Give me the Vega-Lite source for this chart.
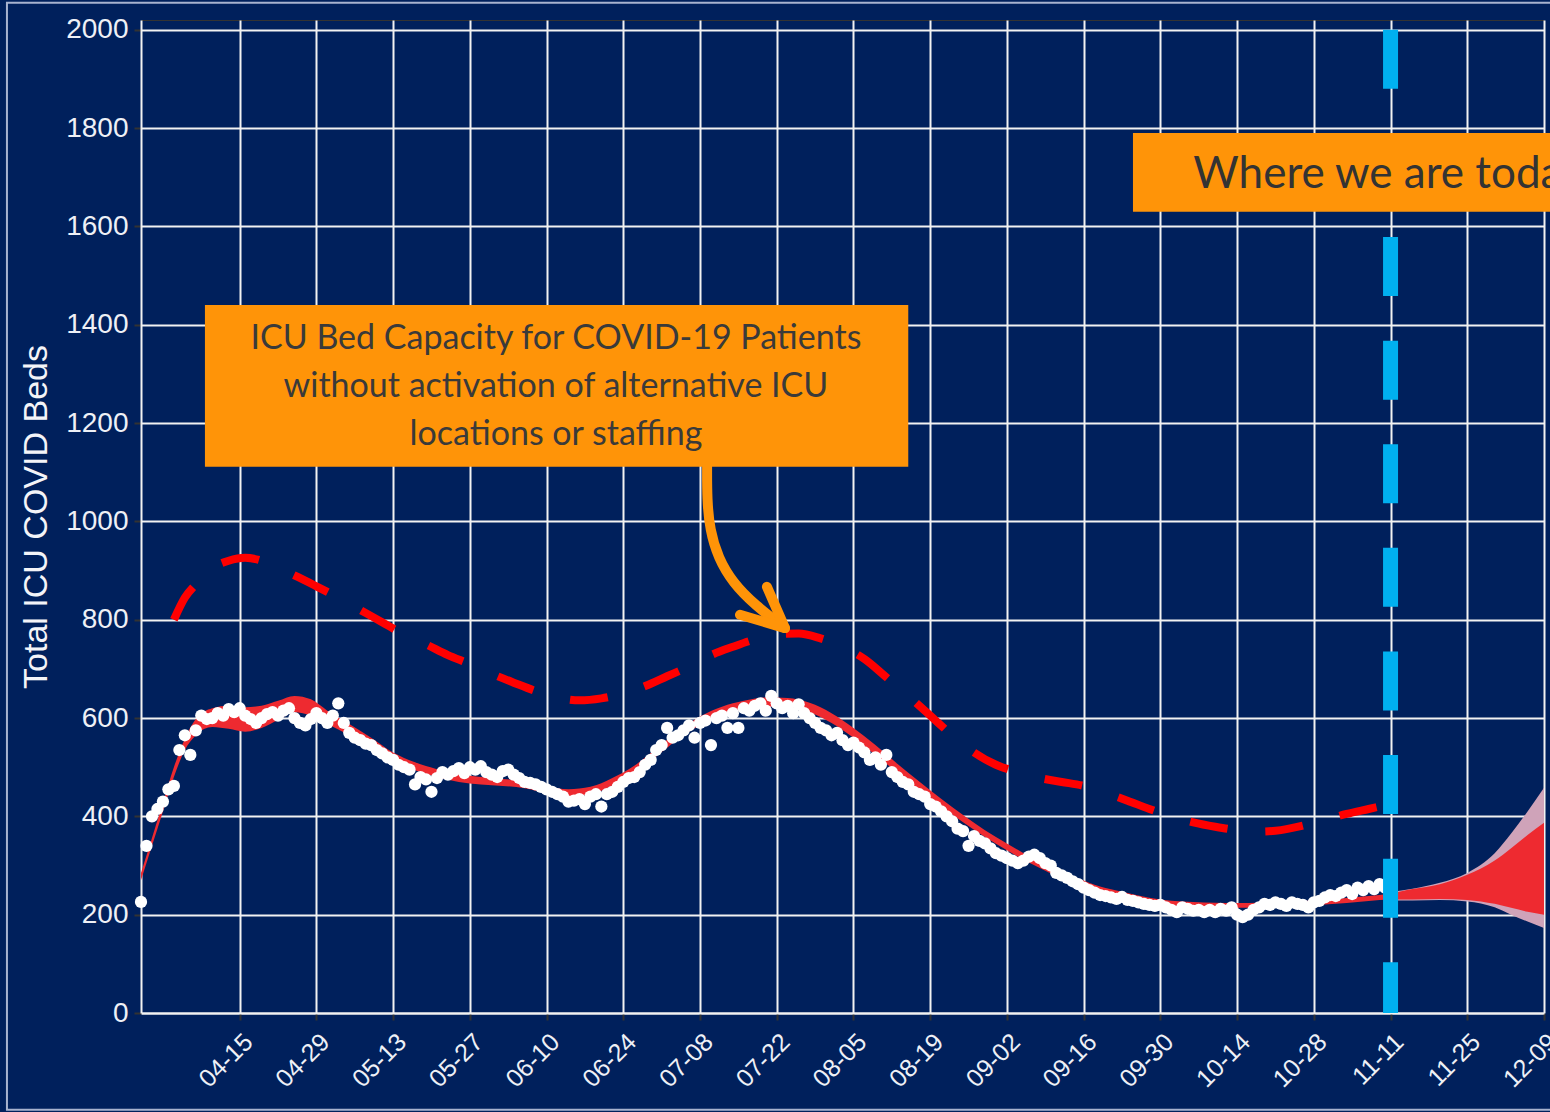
{
  "$schema": "https://vega.github.io/schema/vega-lite/v6.json",
  "width": 1403,
  "height": 993,
  "autosize": {"type": "none"},
  "padding": {"left": 141, "top": 20, "right": 6, "bottom": 99},
  "background": "#00205C",
  "config": {
    "view": {"stroke": "#333333", "strokeWidth": 1},
    "axis": {
      "grid": true, "gridColor": "#F2F2F2", "gridWidth": 2,
      "domainColor": "#F2F2F2", "domainWidth": 2,
      "tickColor": "#333333", "tickWidth": 2, "tickSize": 7,
      "labelColor": "#EEF0F6", "labelFont": "Liberation Sans",
      "titleFont": "Liberation Sans", "titleColor": "#F4F4F8", "titleFontWeight": "normal",
      "labelFlush": false, "labelOverlap": false
    }
  },
  "datasets": {
    "dots": [
      {"date":"2020-03-28","v":226},{"date":"2020-03-29","v":340},{"date":"2020-03-30","v":400},{"date":"2020-03-31","v":415},
      {"date":"2020-04-01","v":430},{"date":"2020-04-02","v":455},{"date":"2020-04-03","v":462},{"date":"2020-04-04","v":535},
      {"date":"2020-04-05","v":565},{"date":"2020-04-06","v":525},{"date":"2020-04-07","v":575},{"date":"2020-04-08","v":605},
      {"date":"2020-04-09","v":598},{"date":"2020-04-10","v":600},{"date":"2020-04-11","v":610},{"date":"2020-04-12","v":605},
      {"date":"2020-04-13","v":618},{"date":"2020-04-14","v":612},{"date":"2020-04-15","v":620},{"date":"2020-04-16","v":605},
      {"date":"2020-04-17","v":598},{"date":"2020-04-18","v":590},{"date":"2020-04-19","v":600},{"date":"2020-04-20","v":608},
      {"date":"2020-04-21","v":612},{"date":"2020-04-22","v":605},{"date":"2020-04-23","v":615},{"date":"2020-04-24","v":620},
      {"date":"2020-04-25","v":600},{"date":"2020-04-26","v":590},{"date":"2020-04-27","v":585},{"date":"2020-04-28","v":598},
      {"date":"2020-04-29","v":610},{"date":"2020-04-30","v":600},{"date":"2020-05-01","v":590},{"date":"2020-05-02","v":605},
      {"date":"2020-05-03","v":630},{"date":"2020-05-04","v":590},{"date":"2020-05-05","v":570},{"date":"2020-05-06","v":560},
      {"date":"2020-05-07","v":555},{"date":"2020-05-08","v":548},{"date":"2020-05-09","v":545},{"date":"2020-05-10","v":535},
      {"date":"2020-05-11","v":528},{"date":"2020-05-12","v":520},{"date":"2020-05-13","v":515},{"date":"2020-05-14","v":505},
      {"date":"2020-05-15","v":500},{"date":"2020-05-16","v":495},{"date":"2020-05-17","v":465},{"date":"2020-05-18","v":480},
      {"date":"2020-05-19","v":475},{"date":"2020-05-20","v":450},{"date":"2020-05-21","v":478},{"date":"2020-05-22","v":490},
      {"date":"2020-05-23","v":485},{"date":"2020-05-24","v":492},{"date":"2020-05-25","v":498},{"date":"2020-05-26","v":488},
      {"date":"2020-05-27","v":500},{"date":"2020-05-28","v":495},{"date":"2020-05-29","v":502},{"date":"2020-05-30","v":490},
      {"date":"2020-05-31","v":485},{"date":"2020-06-01","v":480},{"date":"2020-06-02","v":492},{"date":"2020-06-03","v":495},
      {"date":"2020-06-04","v":485},{"date":"2020-06-05","v":478},{"date":"2020-06-06","v":470},{"date":"2020-06-07","v":468},
      {"date":"2020-06-08","v":465},{"date":"2020-06-09","v":460},{"date":"2020-06-10","v":455},{"date":"2020-06-11","v":450},
      {"date":"2020-06-12","v":445},{"date":"2020-06-13","v":440},{"date":"2020-06-14","v":430},{"date":"2020-06-15","v":432},
      {"date":"2020-06-16","v":435},{"date":"2020-06-17","v":425},{"date":"2020-06-18","v":440},{"date":"2020-06-19","v":445},
      {"date":"2020-06-20","v":420},{"date":"2020-06-21","v":445},{"date":"2020-06-22","v":450},{"date":"2020-06-23","v":460},
      {"date":"2020-06-24","v":470},{"date":"2020-06-25","v":478},{"date":"2020-06-26","v":480},{"date":"2020-06-27","v":490},
      {"date":"2020-06-28","v":505},{"date":"2020-06-29","v":515},{"date":"2020-06-30","v":535},{"date":"2020-07-01","v":545},
      {"date":"2020-07-02","v":580},{"date":"2020-07-03","v":560},{"date":"2020-07-04","v":565},{"date":"2020-07-05","v":575},
      {"date":"2020-07-06","v":585},{"date":"2020-07-07","v":560},{"date":"2020-07-08","v":590},{"date":"2020-07-09","v":595},
      {"date":"2020-07-10","v":545},{"date":"2020-07-11","v":600},{"date":"2020-07-12","v":605},{"date":"2020-07-13","v":580},
      {"date":"2020-07-14","v":610},{"date":"2020-07-15","v":580},{"date":"2020-07-16","v":620},{"date":"2020-07-17","v":615},
      {"date":"2020-07-18","v":625},{"date":"2020-07-19","v":630},{"date":"2020-07-20","v":615},{"date":"2020-07-21","v":645},
      {"date":"2020-07-22","v":630},{"date":"2020-07-23","v":620},{"date":"2020-07-24","v":625},{"date":"2020-07-25","v":610},
      {"date":"2020-07-26","v":628},{"date":"2020-07-27","v":610},{"date":"2020-07-28","v":600},{"date":"2020-07-29","v":590},
      {"date":"2020-07-30","v":580},{"date":"2020-07-31","v":575},{"date":"2020-08-01","v":565},{"date":"2020-08-02","v":570},
      {"date":"2020-08-03","v":555},{"date":"2020-08-04","v":545},{"date":"2020-08-05","v":550},{"date":"2020-08-06","v":540},
      {"date":"2020-08-07","v":530},{"date":"2020-08-08","v":515},{"date":"2020-08-09","v":520},{"date":"2020-08-10","v":505},
      {"date":"2020-08-11","v":525},{"date":"2020-08-12","v":490},{"date":"2020-08-13","v":480},{"date":"2020-08-14","v":470},
      {"date":"2020-08-15","v":465},{"date":"2020-08-16","v":450},{"date":"2020-08-17","v":445},{"date":"2020-08-18","v":440},
      {"date":"2020-08-19","v":425},{"date":"2020-08-20","v":420},{"date":"2020-08-21","v":410},{"date":"2020-08-22","v":400},
      {"date":"2020-08-23","v":390},{"date":"2020-08-24","v":375},{"date":"2020-08-25","v":370},{"date":"2020-08-26","v":340},
      {"date":"2020-08-27","v":360},{"date":"2020-08-28","v":350},{"date":"2020-08-29","v":345},{"date":"2020-08-30","v":335},
      {"date":"2020-08-31","v":325},{"date":"2020-09-01","v":320},{"date":"2020-09-02","v":315},{"date":"2020-09-03","v":310},
      {"date":"2020-09-04","v":305},{"date":"2020-09-05","v":310},{"date":"2020-09-06","v":318},{"date":"2020-09-07","v":322},
      {"date":"2020-09-08","v":315},{"date":"2020-09-09","v":305},{"date":"2020-09-10","v":300},{"date":"2020-09-11","v":285},
      {"date":"2020-09-12","v":280},{"date":"2020-09-13","v":275},{"date":"2020-09-14","v":268},{"date":"2020-09-15","v":262},
      {"date":"2020-09-16","v":255},{"date":"2020-09-17","v":250},{"date":"2020-09-18","v":245},{"date":"2020-09-19","v":240},
      {"date":"2020-09-20","v":238},{"date":"2020-09-21","v":235},{"date":"2020-09-22","v":232},{"date":"2020-09-23","v":236},
      {"date":"2020-09-24","v":230},{"date":"2020-09-25","v":228},{"date":"2020-09-26","v":225},{"date":"2020-09-27","v":222},
      {"date":"2020-09-28","v":220},{"date":"2020-09-29","v":218},{"date":"2020-09-30","v":220},{"date":"2020-10-01","v":215},
      {"date":"2020-10-02","v":210},{"date":"2020-10-03","v":205},{"date":"2020-10-04","v":215},{"date":"2020-10-05","v":212},
      {"date":"2020-10-06","v":208},{"date":"2020-10-07","v":210},{"date":"2020-10-08","v":205},{"date":"2020-10-09","v":210},
      {"date":"2020-10-10","v":205},{"date":"2020-10-11","v":212},{"date":"2020-10-12","v":208},{"date":"2020-10-13","v":215},
      {"date":"2020-10-14","v":200},{"date":"2020-10-15","v":195},{"date":"2020-10-16","v":200},{"date":"2020-10-17","v":210},
      {"date":"2020-10-18","v":215},{"date":"2020-10-19","v":222},{"date":"2020-10-20","v":220},{"date":"2020-10-21","v":225},
      {"date":"2020-10-22","v":222},{"date":"2020-10-23","v":218},{"date":"2020-10-24","v":225},{"date":"2020-10-25","v":222},
      {"date":"2020-10-26","v":220},{"date":"2020-10-27","v":215},{"date":"2020-10-28","v":225},{"date":"2020-10-29","v":228},
      {"date":"2020-10-30","v":235},{"date":"2020-10-31","v":240},{"date":"2020-11-01","v":238},{"date":"2020-11-02","v":245},
      {"date":"2020-11-03","v":250},{"date":"2020-11-04","v":242},{"date":"2020-11-05","v":255},{"date":"2020-11-06","v":250},
      {"date":"2020-11-07","v":258},{"date":"2020-11-08","v":252},{"date":"2020-11-09","v":262},{"date":"2020-11-10","v":255}
    ],
    "band": [
      {"date":"2020-03-28","lo":270,"hi":285},{"date":"2020-03-30","lo":340,"hi":356},{"date":"2020-04-01","lo":410,"hi":428},
      {"date":"2020-04-03","lo":480,"hi":500},{"date":"2020-04-05","lo":535,"hi":558},{"date":"2020-04-07","lo":565,"hi":598},
      {"date":"2020-04-10","lo":582,"hi":620},{"date":"2020-04-13","lo":578,"hi":625},{"date":"2020-04-16","lo":572,"hi":622},
      {"date":"2020-04-19","lo":580,"hi":625},{"date":"2020-04-22","lo":596,"hi":635},{"date":"2020-04-25","lo":612,"hi":645},
      {"date":"2020-04-28","lo":605,"hi":638},{"date":"2020-05-01","lo":588,"hi":615},{"date":"2020-05-05","lo":565,"hi":588},
      {"date":"2020-05-09","lo":538,"hi":560},{"date":"2020-05-13","lo":512,"hi":530},{"date":"2020-05-17","lo":494,"hi":510},
      {"date":"2020-05-21","lo":480,"hi":496},{"date":"2020-05-25","lo":470,"hi":486},{"date":"2020-05-29","lo":465,"hi":480},
      {"date":"2020-06-02","lo":462,"hi":476},{"date":"2020-06-06","lo":457,"hi":472},{"date":"2020-06-10","lo":447,"hi":462},
      {"date":"2020-06-14","lo":440,"hi":455},{"date":"2020-06-18","lo":445,"hi":460},{"date":"2020-06-22","lo":463,"hi":478},
      {"date":"2020-06-26","lo":488,"hi":503},{"date":"2020-06-30","lo":522,"hi":538},{"date":"2020-07-04","lo":557,"hi":573},
      {"date":"2020-07-08","lo":586,"hi":603},{"date":"2020-07-12","lo":606,"hi":623},{"date":"2020-07-16","lo":617,"hi":635},
      {"date":"2020-07-20","lo":623,"hi":642},{"date":"2020-07-24","lo":622,"hi":641},{"date":"2020-07-28","lo":612,"hi":631},
      {"date":"2020-08-01","lo":590,"hi":610},{"date":"2020-08-05","lo":560,"hi":580},{"date":"2020-08-09","lo":525,"hi":545},
      {"date":"2020-08-13","lo":489,"hi":507},{"date":"2020-08-17","lo":453,"hi":471},{"date":"2020-08-21","lo":420,"hi":436},
      {"date":"2020-08-25","lo":388,"hi":403},{"date":"2020-08-29","lo":358,"hi":372},{"date":"2020-09-02","lo":331,"hi":345},
      {"date":"2020-09-06","lo":306,"hi":319},{"date":"2020-09-10","lo":284,"hi":296},{"date":"2020-09-14","lo":266,"hi":278},
      {"date":"2020-09-18","lo":250,"hi":261},{"date":"2020-09-22","lo":238,"hi":249},{"date":"2020-09-26","lo":228,"hi":239},
      {"date":"2020-09-30","lo":221,"hi":231},{"date":"2020-10-04","lo":217,"hi":227},{"date":"2020-10-08","lo":215,"hi":225},
      {"date":"2020-10-12","lo":214,"hi":224},{"date":"2020-10-16","lo":214,"hi":224},{"date":"2020-10-20","lo":215,"hi":225},
      {"date":"2020-10-24","lo":217,"hi":227},{"date":"2020-10-28","lo":219,"hi":229},{"date":"2020-11-01","lo":222,"hi":232},
      {"date":"2020-11-05","lo":226,"hi":236},{"date":"2020-11-09","lo":230,"hi":240},{"date":"2020-11-11","lo":231,"hi":243},
      {"date":"2020-11-15","lo":231,"hi":252},{"date":"2020-11-20","lo":232,"hi":262},{"date":"2020-11-25","lo":230,"hi":281},
      {"date":"2020-11-30","lo":222,"hi":310},{"date":"2020-12-03","lo":214,"hi":335},{"date":"2020-12-06","lo":206,"hi":362},
      {"date":"2020-12-09","lo":200,"hi":387}
    ],
    "outer": [
      {"date":"2020-11-11","lo":229,"hi":246},{"date":"2020-11-15","lo":229,"hi":253},{"date":"2020-11-20","lo":230,"hi":265},
      {"date":"2020-11-25","lo":227,"hi":285},{"date":"2020-11-30","lo":215,"hi":325},{"date":"2020-12-03","lo":200,"hi":365},
      {"date":"2020-12-06","lo":186,"hi":410},{"date":"2020-12-09","lo":173,"hi":458}
    ],
    "capacity": [
      {"date":"2020-04-03","v":800},{"date":"2020-04-05","v":845},{"date":"2020-04-07","v":872},{"date":"2020-04-10","v":905},
      {"date":"2020-04-13","v":920},{"date":"2020-04-16","v":926},{"date":"2020-04-19","v":920},{"date":"2020-04-22","v":905},
      {"date":"2020-04-25","v":890},{"date":"2020-04-29","v":868},{"date":"2020-05-03","v":845},{"date":"2020-05-07","v":820},
      {"date":"2020-05-11","v":795},{"date":"2020-05-15","v":770},{"date":"2020-05-19","v":750},{"date":"2020-05-23","v":728},
      {"date":"2020-05-27","v":710},{"date":"2020-05-31","v":690},{"date":"2020-06-04","v":672},{"date":"2020-06-08","v":655},
      {"date":"2020-06-12","v":642},{"date":"2020-06-16","v":636},{"date":"2020-06-20","v":640},{"date":"2020-06-24","v":650},
      {"date":"2020-06-28","v":665},{"date":"2020-07-02","v":685},{"date":"2020-07-06","v":705},{"date":"2020-07-10","v":728},
      {"date":"2020-07-14","v":745},{"date":"2020-07-18","v":760},{"date":"2020-07-22","v":770},{"date":"2020-07-26","v":772},
      {"date":"2020-07-30","v":762},{"date":"2020-08-03","v":745},{"date":"2020-08-07","v":720},{"date":"2020-08-11","v":683},
      {"date":"2020-08-15","v":645},{"date":"2020-08-19","v":605},{"date":"2020-08-23","v":565},{"date":"2020-08-27","v":530},
      {"date":"2020-08-31","v":505},{"date":"2020-09-04","v":490},{"date":"2020-09-08","v":478},{"date":"2020-09-12","v":470},
      {"date":"2020-09-16","v":462},{"date":"2020-09-20","v":448},{"date":"2020-09-24","v":432},{"date":"2020-09-28","v":415},
      {"date":"2020-10-02","v":400},{"date":"2020-10-06","v":388},{"date":"2020-10-10","v":379},{"date":"2020-10-14","v":372},
      {"date":"2020-10-18","v":369},{"date":"2020-10-22","v":372},{"date":"2020-10-26","v":381},{"date":"2020-10-30","v":393},
      {"date":"2020-11-03","v":405},{"date":"2020-11-07","v":415},{"date":"2020-11-11","v":425}
    ],
    "arrow": [
      {"date":"2020-07-09T07:00:00Z","v":1111,"o":1},{"date":"2020-07-09T07:00:00Z","v":1044,"o":2},
      {"date":"2020-07-09T19:00:00Z","v":983,"o":3},{"date":"2020-07-11T07:00:00Z","v":926,"o":4},
      {"date":"2020-07-14T00:00:00Z","v":875,"o":5},{"date":"2020-07-18T00:00:00Z","v":830,"o":6},
      {"date":"2020-07-23T12:00:00Z","v":783,"o":7}
    ],
    "arrowhead": [
      {"date":"2020-07-20T05:00:00Z","v":867,"o":1},{"date":"2020-07-23T12:00:00Z","v":783,"o":2},
      {"date":"2020-07-15T07:00:00Z","v":810,"o":3}
    ]
  },
  "layer": [
    {
      "data": {"name": "dots"},
      "mark": {"type": "circle", "color": "#FFFFFF", "opacity": 0, "size": 1},
      "encoding": {
        "x": {"field": "date", "type": "temporal",
              "scale": {"type":"utc","domain":[{"year":2020,"month":3,"date":28,"utc":true},{"year":2020,"month":12,"date":9,"utc":true}]},
              "axis": {
                "title": null, "format": "%m-%d", "labelAngle": -45, "labelFontSize": 25, "labelPadding": 9,
                "values": [
                  {"year":2020,"month":4,"date":15,"utc":true},{"year":2020,"month":4,"date":29,"utc":true},
                  {"year":2020,"month":5,"date":13,"utc":true},{"year":2020,"month":5,"date":27,"utc":true},
                  {"year":2020,"month":6,"date":10,"utc":true},{"year":2020,"month":6,"date":24,"utc":true},
                  {"year":2020,"month":7,"date":8,"utc":true},{"year":2020,"month":7,"date":22,"utc":true},
                  {"year":2020,"month":8,"date":5,"utc":true},{"year":2020,"month":8,"date":19,"utc":true},
                  {"year":2020,"month":9,"date":2,"utc":true},{"year":2020,"month":9,"date":16,"utc":true},
                  {"year":2020,"month":9,"date":30,"utc":true},{"year":2020,"month":10,"date":14,"utc":true},
                  {"year":2020,"month":10,"date":28,"utc":true},{"year":2020,"month":11,"date":11,"utc":true},
                  {"year":2020,"month":11,"date":25,"utc":true},{"year":2020,"month":12,"date":9,"utc":true}
                ]
              }},
        "y": {"field": "v", "type": "quantitative",
              "scale": {"domain":[0,2020],"nice":false,"zero":false},
              "axis": {
                "title": "Total ICU COVID Beds", "titleFontSize": 34, "titlePadding": 12,
                "labelFontSize": 28, "labelPadding": 6, "format": "d",
                "values": [0,200,400,600,800,1000,1200,1400,1600,1800,2000]
              }}
      }
    },
    {
      "data": {"values": [{}]},
      "mark": {"type": "rect", "filled": false, "stroke": "#A8B3CF", "strokeWidth": 2, "clip": false},
      "encoding": {
        "x": {"datum": {"year":2020,"month":3,"date":3,"hours":13,"utc":true}, "type": "temporal",
              "scale": {"type":"utc","domain":[{"year":2020,"month":3,"date":28,"utc":true},{"year":2020,"month":12,"date":9,"utc":true}]}},
        "x2": {"datum": {"year":2021,"month":1,"date":20,"utc":true}},
        "y": {"datum": 2055, "type": "quantitative", "scale": {"domain":[0,2020],"nice":false,"zero":false}},
        "y2": {"datum": -197}
      }
    },
    {
      "data": {"name": "outer"},
      "mark": {"type": "area", "color": "#CFA3B9", "interpolate": "monotone"},
      "encoding": {
        "x": {"field": "date", "type": "temporal",
              "scale": {"type":"utc","domain":[{"year":2020,"month":3,"date":28,"utc":true},{"year":2020,"month":12,"date":9,"utc":true}]}},
        "y": {"field": "lo", "type": "quantitative", "scale": {"domain":[0,2020],"nice":false,"zero":false}},
        "y2": {"field": "hi"}
      }
    },
    {
      "data": {"name": "band"},
      "mark": {"type": "area", "color": "#EE2A30", "interpolate": "monotone"},
      "encoding": {
        "x": {"field": "date", "type": "temporal",
              "scale": {"type":"utc","domain":[{"year":2020,"month":3,"date":28,"utc":true},{"year":2020,"month":12,"date":9,"utc":true}]}},
        "y": {"field": "lo", "type": "quantitative", "scale": {"domain":[0,2020],"nice":false,"zero":false}},
        "y2": {"field": "hi"}
      }
    },
    {
      "data": {"name": "dots"},
      "mark": {"type": "circle", "color": "#FFFFFF", "opacity": 1, "size": 150},
      "encoding": {
        "x": {"field": "date", "type": "temporal",
              "scale": {"type":"utc","domain":[{"year":2020,"month":3,"date":28,"utc":true},{"year":2020,"month":12,"date":9,"utc":true}]}},
        "y": {"field": "v", "type": "quantitative", "scale": {"domain":[0,2020],"nice":false,"zero":false}}
      }
    },
    {
      "data": {"name": "capacity"},
      "mark": {"type": "line", "color": "#FF0000", "strokeWidth": 8, "strokeDash": [38, 38], "interpolate": "monotone"},
      "encoding": {
        "x": {"field": "date", "type": "temporal",
              "scale": {"type":"utc","domain":[{"year":2020,"month":3,"date":28,"utc":true},{"year":2020,"month":12,"date":9,"utc":true}]}},
        "y": {"field": "v", "type": "quantitative", "scale": {"domain":[0,2020],"nice":false,"zero":false}}
      }
    },
    {
      "data": {"values": [{}]},
      "mark": {"type": "rule", "color": "#00B0F0", "strokeWidth": 15, "strokeDash": [59, 44.6], "strokeCap": "butt"},
      "encoding": {
        "x": {"datum": {"year":2020,"month":11,"date":11,"utc":true}, "type": "temporal",
              "scale": {"type":"utc","domain":[{"year":2020,"month":3,"date":28,"utc":true},{"year":2020,"month":12,"date":9,"utc":true}]}},
        "y": {"datum": 2000, "type": "quantitative", "scale": {"domain":[0,2020],"nice":false,"zero":false}},
        "y2": {"datum": 0}
      }
    },
    {
      "data": {"values": [{}]},
      "mark": {"type": "rect", "color": "#FF9408", "clip": false},
      "encoding": {
        "x": {"datum": {"year":2020,"month":4,"date":8,"hours":16,"utc":true}, "type": "temporal",
              "scale": {"type":"utc","domain":[{"year":2020,"month":3,"date":28,"utc":true},{"year":2020,"month":12,"date":9,"utc":true}]}},
        "x2": {"datum": {"year":2020,"month":8,"date":15,"utc":true}},
        "y": {"datum": 1440, "type": "quantitative", "scale": {"domain":[0,2020],"nice":false,"zero":false}},
        "y2": {"datum": 1111}
      }
    },
    {
      "data": {"values": [{}]},
      "mark": {"type": "text", "font": "Lato", "fontSize": 34, "color": "#3A3A3A", "align": "center", "baseline": "middle", "lineHeight": 48, "clip": false},
      "encoding": {
        "x": {"datum": {"year":2020,"month":6,"date":11,"hours":17,"utc":true}, "type": "temporal",
              "scale": {"type":"utc","domain":[{"year":2020,"month":3,"date":28,"utc":true},{"year":2020,"month":12,"date":9,"utc":true}]}},
        "y": {"datum": 1371, "type": "quantitative", "scale": {"domain":[0,2020],"nice":false,"zero":false}},
        "text": {"value": ["ICU Bed Capacity for COVID-19 Patients", "without activation of alternative ICU", "locations or staffing"]}
      }
    },
    {
      "data": {"name": "arrow"},
      "mark": {"type": "line", "color": "#FF9408", "strokeWidth": 10, "strokeCap": "round", "interpolate": "basis", "clip": false},
      "encoding": {
        "x": {"field": "date", "type": "temporal",
              "scale": {"type":"utc","domain":[{"year":2020,"month":3,"date":28,"utc":true},{"year":2020,"month":12,"date":9,"utc":true}]}},
        "y": {"field": "v", "type": "quantitative", "scale": {"domain":[0,2020],"nice":false,"zero":false}},
        "order": {"field": "o"}
      }
    },
    {
      "data": {"name": "arrowhead"},
      "mark": {"type": "line", "color": "#FF9408", "strokeWidth": 10, "strokeCap": "round", "strokeJoin": "round", "clip": false},
      "encoding": {
        "x": {"field": "date", "type": "temporal",
              "scale": {"type":"utc","domain":[{"year":2020,"month":3,"date":28,"utc":true},{"year":2020,"month":12,"date":9,"utc":true}]}},
        "y": {"field": "v", "type": "quantitative", "scale": {"domain":[0,2020],"nice":false,"zero":false}},
        "order": {"field": "o"}
      }
    },
    {
      "data": {"values": [{}]},
      "mark": {"type": "rect", "color": "#FF9408", "clip": false},
      "encoding": {
        "x": {"datum": {"year":2020,"month":9,"date":25,"utc":true}, "type": "temporal",
              "scale": {"type":"utc","domain":[{"year":2020,"month":3,"date":28,"utc":true},{"year":2020,"month":12,"date":9,"utc":true}]}},
        "x2": {"datum": {"year":2021,"month":1,"date":20,"utc":true}},
        "y": {"datum": 1790, "type": "quantitative", "scale": {"domain":[0,2020],"nice":false,"zero":false}},
        "y2": {"datum": 1630}
      }
    },
    {
      "data": {"values": [{}]},
      "mark": {"type": "text", "font": "Lato", "fontSize": 44, "color": "#333333", "align": "left", "baseline": "alphabetic", "clip": false},
      "encoding": {
        "x": {"datum": {"year":2020,"month":10,"date":6,"utc":true}, "type": "temporal",
              "scale": {"type":"utc","domain":[{"year":2020,"month":3,"date":28,"utc":true},{"year":2020,"month":12,"date":9,"utc":true}]}},
        "y": {"datum": 1678, "type": "quantitative", "scale": {"domain":[0,2020],"nice":false,"zero":false}},
        "text": {"value": "Where we are today"}
      }
    }
  ]
}
